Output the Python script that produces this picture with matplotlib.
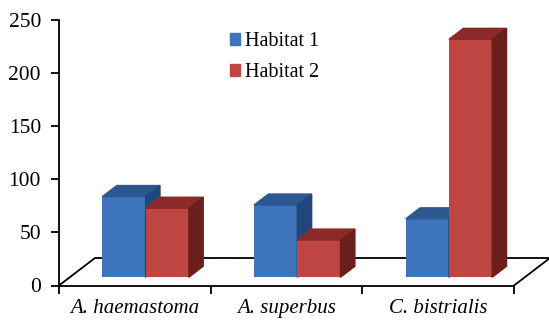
import matplotlib.pyplot as plt
from matplotlib.patches import Patch

# Counts per species in the two habitats
species = ['A. haemastoma', 'A. superbus', 'C. bistrialis']
habitat1 = [76, 68, 55]
habitat2 = [65, 35, 224]
y_ticks = [0, 50, 100, 150, 200, 250]
series = [('Habitat 1', habitat1), ('Habitat 2', habitat2)]

# front / top / side shades for the pseudo-3D boxes
shades = {
    'Habitat 1': ('#3D74BC', '#2D5791', '#23467A'),
    'Habitat 2': ('#BE4542', '#8B2B29', '#6C1E1C'),
}

plt.rcParams['font.family'] = ['Liberation Serif', 'DejaVu Serif']

fig = plt.figure(figsize=(5.49, 3.22), dpi=100)
ax = fig.add_axes([59 / 549, 36.5 / 322, 455 / 549, 265.5 / 322])
ax.set_xlim(0, 3)
ax.set_ylim(0, 250)

# depth of the floor (in data units) and where the bars sit inside it
floor_dx, floor_dy = 0.237, 25.9
front, back = 0.3, 0.7
width = 0.285
ddx = (back - front) * floor_dx
ddy = (back - front) * floor_dy

# floor outline
ax.plot([0, floor_dx, 3 + floor_dx, 3], [0, floor_dy, floor_dy, 0],
        color='black', lw=1.3, clip_on=False, zorder=1)

for i in range(len(species)):
    for j, (label, values) in enumerate(series):
        c_front, c_top, c_side = shades[label]
        h = values[i]
        x0 = i + 0.5 - width + j * width + front * floor_dx
        x1 = x0 + width
        base = front * floor_dy
        top = base + h
        ax.bar(x0, h, width=width, bottom=base, align='edge',
               color=c_front, zorder=2)
        ax.fill([x0, x0 + ddx, x1 + ddx, x1], [top, top + ddy, top + ddy, top],
                color=c_top, zorder=2, clip_on=False)
        ax.fill([x1, x1 + ddx, x1 + ddx, x1], [base, base + ddy, top + ddy, top],
                color=c_side, zorder=2, clip_on=False)

for side in ['top', 'right']:
    ax.spines[side].set_visible(False)
for side in ['left', 'bottom']:
    ax.spines[side].set_linewidth(1.3)

ax.set_yticks(y_ticks)
ax.tick_params(axis='y', direction='out', length=6, width=1.3, pad=7, labelsize=15.5)
ax.set_xticks([0, 1, 2, 3])
ax.set_xticklabels([])
ax.tick_params(axis='x', which='major', direction='out', length=6, width=1.3)
ax.set_xticks([0.5, 1.5, 2.5], minor=True)
ax.set_xticklabels(species, minor=True, fontsize=15, style='italic')
ax.tick_params(axis='x', which='minor', length=0, pad=10)

handles = [Patch(color=shades[label][0], label=label) for label, _ in series]
fig.legend(handles=handles, loc='upper left', bbox_to_anchor=(230 / 549, 1 - 32 / 322),
           frameon=False, fontsize=14.5, handlelength=0.5, handleheight=0.5,
           handletextpad=0.25, labelspacing=0.6, borderpad=0, borderaxespad=0)

plt.savefig('out.png', dpi=100)
